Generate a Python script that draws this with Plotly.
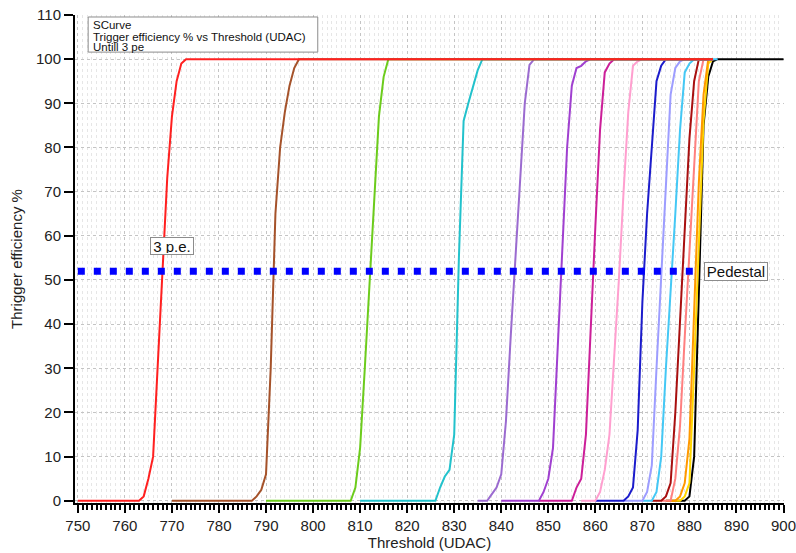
import plotly.graph_objects as go

# ---------------- data ----------------
red_x = [750, 763, 764, 765, 766, 767, 768, 769, 770, 771, 772, 773, 885]
red_y = [0, 0, 1, 5, 10, 30, 53, 73, 87, 95, 99, 100, 100]

brown_x = [770, 787, 788, 789, 790, 791, 792, 793, 794, 795, 796, 797, 885]
brown_y = [0, 0, 1, 2.5, 6, 30, 65, 80, 88, 94, 98, 100, 100]

green_x = [790, 808, 809, 810, 811, 812, 813, 814, 815, 816, 885]
green_y = [0, 0, 3, 12, 30, 50, 70, 87, 96, 100, 100]

cyan_x = [810, 826, 827, 828, 829, 830, 831, 832, 833, 834, 835, 836, 885]
cyan_y = [0, 0, 3, 5.5, 7, 15, 55, 86, 90, 94, 97.5, 100, 100]

lilac_x = [835, 837, 838, 839, 840, 841, 842, 843, 844, 845, 846, 847, 885]
lilac_y = [0, 0, 1.5, 3, 6, 18, 37, 55, 73, 90, 98.7, 100, 100]

orchid_x = [840, 848, 849, 850, 851, 852, 853, 854, 855, 856, 857, 858, 859, 885]
orchid_y = [0, 0, 2, 5, 12, 35, 58, 80, 94, 98, 98.5, 99.5, 100, 100]

magenta_x = [848, 855, 856, 857, 858, 859, 860, 861, 862, 863, 864, 885]
magenta_y = [0, 0, 3, 5, 15, 40, 62, 84, 97, 99, 100, 100]

pink_x = [857, 860, 861, 862, 863, 864, 865, 866, 867, 868, 869, 870, 885]
pink_y = [0, 0, 2, 7, 15, 32, 50, 70, 88, 98.5, 99.5, 100, 100]

blue_x = [860, 866, 867, 868, 869, 870, 871, 872, 873, 874, 875, 885]
blue_y = [0, 0, 1, 3, 16, 45, 65, 80, 95, 98.5, 100, 100]

periwinkle_x = [866, 870, 871, 872, 873, 874, 875, 876, 877, 878, 879, 885]
periwinkle_y = [0, 0, 2, 8, 30, 51, 73, 92, 98, 99.5, 100, 100]

sky_x = [870, 872, 873, 874, 875, 876, 877, 878, 879, 880, 881, 886]
sky_y = [0, 0, 2, 10, 30, 47, 65, 84, 97, 99, 100, 100]

darkred_x = [872, 874, 875, 876, 877, 878, 879, 880, 881, 882, 885]
darkred_y = [0, 0, 1, 4, 20, 40, 60, 82, 95, 100, 100]

salmon_x = [874, 876, 877, 878, 879, 880, 881, 882, 883, 885]
salmon_y = [0, 0, 5, 17, 37, 56, 76, 95, 100, 100]

orange_x = [875, 877, 878, 879, 880, 881, 882, 883, 884, 885]
orange_y = [0, 0, 1, 4, 14, 45, 72, 92, 100, 100]

yellow_x = [876, 878, 879, 880, 881, 882, 883, 884, 885]
yellow_y = [0, 0, 1, 4, 30, 60, 86, 99, 100]

black_x = [875, 879, 880, 881, 882, 883, 884, 885, 886, 900]
black_y = [0, 0, 1, 10, 47, 85, 96, 99.5, 100, 100]

pedestal_x = [750, 881.5]
pedestal_y = [52, 52]

x_ticks = [750, 760, 770, 780, 790, 800, 810, 820, 830, 840, 850, 860, 870, 880, 890, 900]
y_ticks = [0, 10, 20, 30, 40, 50, 60, 70, 80, 90, 100, 110]

# drawn from last to first so the red curve lies on top of the 100 % plateau
curves = [
    (black_x, black_y, "#000000"),
    (yellow_x, yellow_y, "#ffd700"),
    (orange_x, orange_y, "#ff9900"),
    (salmon_x, salmon_y, "#ff8080"),
    (darkred_x, darkred_y, "#a80f0f"),
    (sky_x, sky_y, "#44c8f5"),
    (periwinkle_x, periwinkle_y, "#9d9dff"),
    (blue_x, blue_y, "#1c1ccc"),
    (pink_x, pink_y, "#ff9fcf"),
    (magenta_x, magenta_y, "#cc1f99"),
    (orchid_x, orchid_y, "#a040d0"),
    (lilac_x, lilac_y, "#9b6bd0"),
    (cyan_x, cyan_y, "#22c2cc"),
    (green_x, green_y, "#6ccc1c"),
    (brown_x, brown_y, "#a5522a"),
    (red_x, red_y, "#ff2020"),
]

FONT = "Liberation Sans, Arial, sans-serif"

fig = go.Figure()
for xs, ys, col in curves:
    fig.add_trace(go.Scatter(x=xs, y=ys, mode="lines",
                             line=dict(color=col, width=2),
                             hoverinfo="skip", showlegend=False))

fig.add_trace(go.Scatter(x=pedestal_x, y=pedestal_y, mode="lines",
                         line=dict(color="#0000ff", width=7, dash="7px,9px"),
                         hoverinfo="skip", showlegend=False))

# info box (top left)
fig.add_shape(type="rect", xref="x", yref="y",
              x0=752.2, x1=801.0, y0=101.6, y1=109.55,
              line=dict(color="#8c8c8c", width=1), fillcolor="white", layer="above")
info_lines = ["SCurve", "Trigger efficiency % vs Threshold (UDAC)", "Untill 3 pe"]
info_y = [107.7, 105.1, 102.7]
for txt, yy in zip(info_lines, info_y):
    fig.add_annotation(x=752.9, y=yy, xref="x", yref="y", text=txt,
                       showarrow=False, xanchor="left", yanchor="middle",
                       font=dict(family=FONT, size=11.5, color="#111"))

# labelled boxes
fig.add_annotation(x=770.0, y=57.7, xref="x", yref="y", text="3 p.e.",
                   showarrow=False, xanchor="center", yanchor="middle",
                   font=dict(family=FONT, size=15, color="#111"),
                   bgcolor="white", bordercolor="#8c8c8c", borderwidth=1,
                   borderpad=1, width=40, height=14)
fig.add_annotation(x=889.8, y=51.9, xref="x", yref="y", text="Pedestal",
                   showarrow=False, xanchor="center", yanchor="middle",
                   font=dict(family=FONT, size=15, color="#111"),
                   bgcolor="white", bordercolor="#8c8c8c", borderwidth=1,
                   borderpad=1, width=60, height=15)

fig.update_layout(
    template="none",
    width=796, height=553,
    margin=dict(l=75, r=12, t=15, b=50),
    plot_bgcolor="white", paper_bgcolor="white",
    showlegend=False,
    font=dict(family=FONT, size=14, color="#222"),
)

fig.update_xaxes(
    range=[749.4, 900.1],
    tickmode="array", tickvals=x_ticks, ticktext=[str(v) for v in x_ticks],
    ticks="outside", ticklen=8, tickwidth=2, tickcolor="black",
    ticklabeloverflow="allow",
    showline=True, linecolor="black", linewidth=2,
    showgrid=True, gridcolor="#c4c4c4", griddash="dot", gridwidth=1,
    zeroline=False,
    tickfont=dict(family=FONT, size=15, color="#222"),
    minor=dict(dtick=1, tick0=750, ticks="outside", ticklen=5, tickwidth=1.5,
               tickcolor="black", showgrid=True, gridcolor="#e6e6e6",
               griddash="dot", gridwidth=1),
    title=dict(text="Threshold (UDAC)", font=dict(family=FONT, size=15, color="#222"),
               standoff=4),
)
fig.update_yaxes(
    range=[-0.5, 110],
    tickmode="array", tickvals=y_ticks, ticktext=[str(v) for v in y_ticks],
    ticks="outside", ticklen=9, tickwidth=2, tickcolor="black",
    showline=True, linecolor="black", linewidth=2,
    showgrid=True, gridcolor="#c4c4c4", griddash="dot", gridwidth=1,
    zeroline=False,
    tickfont=dict(family=FONT, size=15, color="#222"),
    title=dict(text="Thrigger efficiency %", font=dict(family=FONT, size=15, color="#222"),
               standoff=10),
)

# remove the default page margin so the 796x553 figure fills the window exactly
fig.write_html("out.html",
               config={"displayModeBar": False},
               post_script="document.body.style.margin='0';document.body.style.overflow='hidden';")
